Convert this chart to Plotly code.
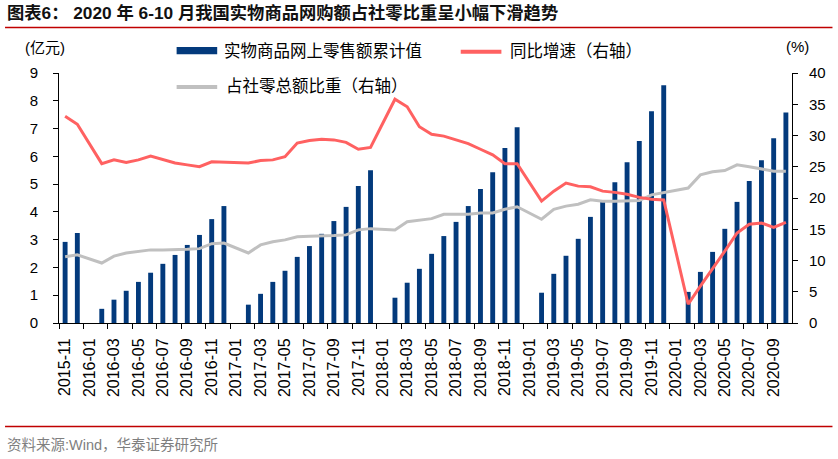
import plotly.graph_objects as go

months = [
    "2015-11", "2015-12",
    "2016-01", "2016-02", "2016-03", "2016-04", "2016-05", "2016-06",
    "2016-07", "2016-08", "2016-09", "2016-10", "2016-11", "2016-12",
    "2017-01", "2017-02", "2017-03", "2017-04", "2017-05", "2017-06",
    "2017-07", "2017-08", "2017-09", "2017-10", "2017-11", "2017-12",
    "2018-01", "2018-02", "2018-03", "2018-04", "2018-05", "2018-06",
    "2018-07", "2018-08", "2018-09", "2018-10", "2018-11", "2018-12",
    "2019-01", "2019-02", "2019-03", "2019-04", "2019-05", "2019-06",
    "2019-07", "2019-08", "2019-09", "2019-10", "2019-11", "2019-12",
    "2020-01", "2020-02", "2020-03", "2020-04", "2020-05", "2020-06",
    "2020-07", "2020-08", "2020-09", "2020-10",
]

# 实物商品网上零售额累计值 (left axis)
online_cum = [
    2.92, 3.24,
    None, 0.51, 0.84, 1.16, 1.48, 1.81, 2.13, 2.45, 2.81, 3.17, 3.74, 4.21,
    None, 0.66, 1.05, 1.48, 1.88, 2.38, 2.77, 3.21, 3.67, 4.18, 4.93, 5.50,
    None, 0.91, 1.45, 1.95, 2.49, 3.13, 3.64, 4.21, 4.82, 5.43, 6.30, 7.05,
    None, 1.09, 1.77, 2.42, 3.03, 3.82, 4.36, 5.07, 5.79, 6.55, 7.62, 8.56,
    None, 1.12, 1.84, 2.56, 3.39, 4.36, 5.11, 5.86, 6.65, 7.58,
]

# 同比增速 (right axis, %)
yoy_growth = [
    33.1, 31.8,
    None, 25.5, 26.1, 25.7, 26.1, 26.7, 26.2, 25.6, 25.3, 25.0, 25.8, 25.7,
    None, 25.6, 26.0, 26.1, 26.6, 28.8, 29.2, 29.4, 29.3, 28.9, 27.8, 28.1,
    None, 35.8, 34.6, 31.4, 30.2, 29.9, 29.3, 28.7, 27.8, 26.9, 25.5, 25.5,
    None, 19.5, 21.1, 22.4, 21.9, 21.8, 21.1, 20.9, 20.6, 20.1, 19.8, 19.7,
    None, 3.0, 5.9, 8.6, 11.5, 14.4, 15.8, 16.0, 15.3, 16.1,
]

# 占社零总额比重 (right axis, %)
share_retail = [
    10.6, 10.9,
    None, 9.6, 10.7, 11.2, 11.4, 11.7, 11.7, 11.7, 11.8, 11.9, 12.7, 12.8,
    None, 11.2, 12.5, 13.0, 13.3, 13.8, 13.9, 13.9, 14.0, 14.1, 14.9, 15.1,
    None, 14.9, 16.2, 16.5, 16.7, 17.4, 17.4, 17.4, 17.6, 17.6, 18.2, 18.6,
    None, 16.6, 18.2, 18.7, 19.0, 19.7, 19.5, 19.5, 19.5, 19.6, 20.5, 20.9,
    None, 21.6, 23.7, 24.2, 24.4, 25.3, 25.0, 24.6, 24.3, 24.3,
]

NAVY = "#033a7c"
RED = "#ff6161"
GRAY = "#c0c0c0"
FONT = "Liberation Sans, Arial, Noto Sans CJK SC, sans-serif"

idx = list(range(len(months)))
label_vals = idx[::2]
label_text = months[::2]
boundary_vals = [i - 0.5 for i in idx[::2]]

fig = go.Figure()
fig.add_trace(go.Bar(x=idx, y=online_cum, marker=dict(color=NAVY, line=dict(width=0)),
                     name="实物商品网上零售额累计值", yaxis="y"))
fig.add_trace(go.Scatter(x=idx, y=share_retail, mode="lines", connectgaps=True,
                         line=dict(color=GRAY, width=3), name="占社零总额比重（右轴）", yaxis="y2"))
fig.add_trace(go.Scatter(x=idx, y=yoy_growth, mode="lines", connectgaps=True,
                         line=dict(color=RED, width=3), name="同比增速（右轴）", yaxis="y2"))

W, H = 838, 459
L, R, T, B = 59, 792.5, 72.7, 323.3


def px(x):
    return (x - L) / (R - L)


def py(y):
    return (B - y) / (B - T)


fig.update_layout(
    width=W, height=H,
    margin=dict(l=L, r=W - R, t=T, b=H - B, pad=0),
    paper_bgcolor="white", plot_bgcolor="white",
    showlegend=False, bargap=0.6,
    font=dict(family=FONT, size=15, color="black"),
    xaxis=dict(range=[-0.5, len(months) - 0.5], tickmode="array", tickvals=label_vals,
               ticktext=label_text, tickangle=-90, ticks="", showgrid=False, zeroline=False,
               showline=True, linecolor="black", linewidth=1,
               tickfont=dict(size=16, family=FONT), ticklabelstandoff=8),
    xaxis2=dict(range=[-0.5, len(months) - 0.5], overlaying="x", anchor="y", side="bottom",
                tickmode="array", tickvals=boundary_vals, showticklabels=False,
                ticks="outside", ticklen=5, tickcolor="black", tickwidth=1,
                showgrid=False, zeroline=False, showline=False),
    yaxis=dict(range=[0, 9], dtick=1, ticks="outside", ticklen=5, tickcolor="black",
               showline=True, linecolor="black", linewidth=1, showgrid=False, zeroline=False,
               tickfont=dict(size=15), ticklabelstandoff=12),
    yaxis2=dict(range=[0, 40], dtick=5, overlaying="y", side="right", ticks="outside",
                ticklen=5, tickcolor="black", showline=True, linecolor="black", linewidth=1,
                showgrid=False, zeroline=False, tickfont=dict(size=15), ticklabelstandoff=8),
)

# a dummy invisible trace to activate xaxis2 so its ticks are drawn
fig.add_trace(go.Scatter(x=[None], y=[None], xaxis="x2", yaxis="y", showlegend=False,
                         hoverinfo="skip"))

shapes = [
    dict(type="line", xref="paper", yref="paper", x0=px(5), x1=px(833), y0=py(27), y1=py(27),
         line=dict(color="#c00000", width=1.5)),
    dict(type="line", xref="paper", yref="paper", x0=px(5), x1=px(833), y0=py(427), y1=py(427),
         line=dict(color="#c00000", width=1.5)),
    # legend swatches
    dict(type="rect", xref="paper", yref="paper", x0=px(176.7), x1=px(217.3), y0=py(54),
         y1=py(46.7), fillcolor=NAVY, line=dict(width=0)),
    dict(type="line", xref="paper", yref="paper", x0=px(461), x1=px(501.7), y0=py(51.3),
         y1=py(51.3), line=dict(color=RED, width=4)),
    dict(type="line", xref="paper", yref="paper", x0=px(176.7), x1=px(217.3), y0=py(86.7),
         y1=py(86.7), line=dict(color=GRAY, width=4)),
]
fig.update_layout(shapes=shapes)

CJK = "Noto Sans CJK SC, sans-serif"
ann = [
    dict(text="<b>图表6： 2020 年 6-10 月我国实物商品网购额占社零比重呈小幅下滑趋势</b>",
         x=px(5), y=py(13), xanchor="left", yanchor="middle",
         font=dict(size=17.3, family=FONT, color="#111111")),
    dict(text="资料来源:Wind，华泰证券研究所", x=px(5), y=py(446), xanchor="left",
         yanchor="middle", font=dict(size=14.5, family=FONT, color="#7f7f7f")),
    dict(text="(亿元)", x=px(45), y=py(46.7), xanchor="center", yanchor="middle",
         font=dict(size=15, family=FONT)),
    dict(text="(%)", x=px(798), y=py(46), xanchor="center", yanchor="middle",
         font=dict(size=15, family=FONT)),
    dict(text="实物商品网上零售额累计值", x=px(222), y=py(50), xanchor="left", yanchor="middle",
         font=dict(size=16.5, family=CJK)),
    dict(text="同比增速（右轴）", x=px(508), y=py(50), xanchor="left", yanchor="middle",
         font=dict(size=16.5, family=CJK)),
    dict(text="占社零总额比重（右轴）", x=px(224), y=py(85), xanchor="left", yanchor="middle",
         font=dict(size=16.5, family=CJK)),
]
for a in ann:
    a.update(xref="paper", yref="paper", showarrow=False)
fig.update_layout(annotations=ann)

fig.write_html("out.html")
